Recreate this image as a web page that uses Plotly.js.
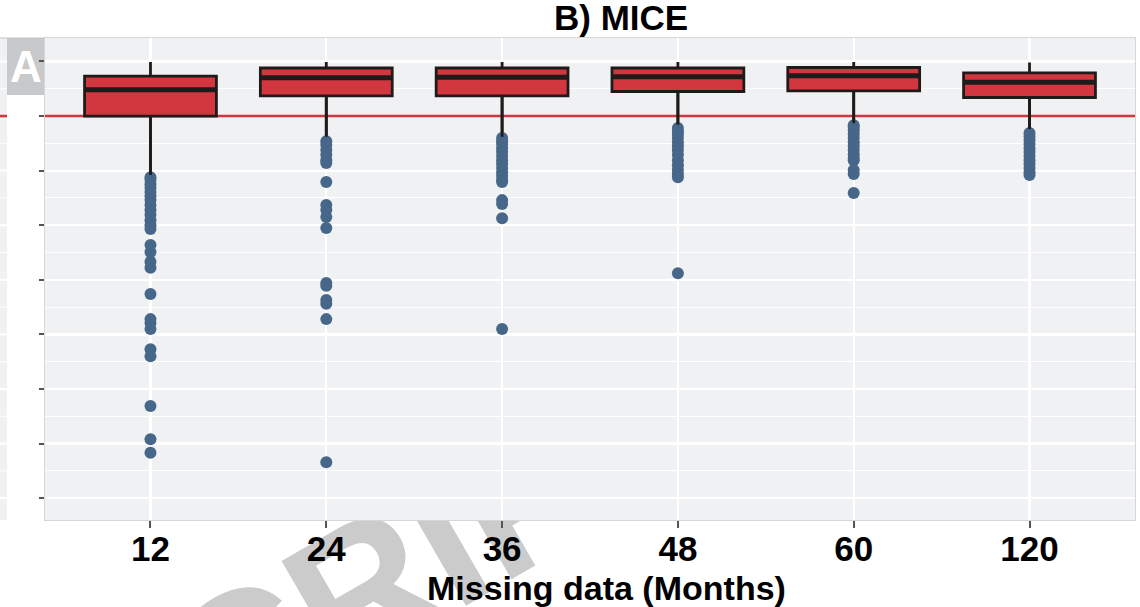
<!DOCTYPE html>
<html>
<head>
<meta charset="utf-8">
<script src="https://cdn.plot.ly/plotly-3.0.1.min.js"></script>
<style>
  html, body { margin: 0; padding: 0; background: #ffffff; }
  #wrap { position: relative; width: 1140px; height: 607px; overflow: hidden; }
  #wmclip { position: absolute; left: 0; top: 521px; width: 1140px; height: 86px; overflow: hidden; z-index: 0; }
  #wm { position: absolute; left: 20px; top: 140px; transform-origin: 0 0; transform: rotate(-30deg);
        font-family: "Liberation Sans", Arial, sans-serif; font-weight: bold; font-size: 190px; line-height: normal;
        color: #cbcbcb; white-space: nowrap; }
  #chart { position: absolute; left: 0; top: 0; width: 1140px; height: 607px; z-index: 1; }
</style>
</head>
<body>
<div id="wrap">
  <div id="wmclip"><div id="wm">SCRIPT</div></div>
  <div id="chart"></div>
</div>
<script>
// ---- data ----
const categories = ['12', '24', '36', '48', '60', '120'];
const q1 = [0.00, 0.37, 0.37, 0.45, 0.46, 0.34];
const median = [0.48, 0.70, 0.71, 0.72, 0.74, 0.62];
const q3 = [0.73, 0.88, 0.88, 0.88, 0.89, 0.79];
const upperWhisker = [0.99, 0.99, 0.99, 0.99, 0.99, 0.98];
const lowerWhisker = [-1.08, -0.38, -0.38, -0.16, -0.13, -0.24];

const out12 = [-1.12, -1.17, -1.25, -1.32, -1.39, -1.47, -1.54, -1.63, -1.72, -1.81, -1.91, -2.00, -2.07,
               -2.36, -2.49, -2.67, -2.78, -3.26, -3.72, -3.79, -3.90, -4.27, -4.40, -5.31, -5.92, -6.17];
const out24 = [-0.46, -0.53, -0.62, -0.71, -0.81, -0.86, -1.21, -1.63, -1.72, -1.85, -2.05,
               -3.06, -3.11, -3.37, -3.44, -3.72, -6.34];
const out36 = [-0.40, -0.46, -0.51, -0.59, -0.66, -0.73, -0.81, -0.88, -0.95, -1.03, -1.10, -1.17, -1.21,
               -1.54, -1.61, -1.87, -3.90];
const out48 = [-0.22, -0.28, -0.33, -0.40, -0.48, -0.55, -0.62, -0.71, -0.81, -0.90, -0.99, -1.06, -1.12, -2.88];
const out60 = [-0.17, -0.20, -0.26, -0.33, -0.40, -0.48, -0.55, -0.62, -0.70, -0.77, -0.81, -0.99, -1.06, -1.41];
const out120 = [-0.31, -0.37, -0.44, -0.51, -0.59, -0.66, -0.73, -0.81, -0.88, -0.95, -1.03, -1.08];
const outliers = [out12, out24, out36, out48, out60, out120];

const referenceValue = 0;
const yTicks = [-7, -6, -5, -4, -3, -2, -1, 0, 1];
const yMinorTicks = [-6.5, -5.5, -4.5, -3.5, -2.5, -1.5, -0.5, 0.5];

// ---- styles ----
const RED = '#d2363f';
const DARK = '#1f1b1a';
const BLUE = '#46678a';
const PANEL = '#f0f1f3';
const TICKC = '#555555';
const FONT = '"Liberation Sans Narrow", "Liberation Sans", Arial, sans-serif';
const BOXW = 0.75;
const YRANGE = [-7.40, 1.43];

const pos = categories.map((c, i) => i);

// outlier points
const ox = [], oy = [];
outliers.forEach((arr, i) => arr.forEach(v => { ox.push(i); oy.push(v); }));

// median overlay & lower whisker overlay (drawn above the points, as in the reference)
const mx = [], my = [], wx = [], wy = [];
pos.forEach((p, i) => {
  mx.push(p - BOXW / 2, p + BOXW / 2, null); my.push(median[i], median[i], null);
  wx.push(p, p, null); wy.push(q1[i], lowerWhisker[i], null);
});

const traces = [
  { type: 'box', x: pos, q1: q1, median: median, q3: q3,
    lowerfence: lowerWhisker, upperfence: upperWhisker,
    width: BOXW, whiskerwidth: 0, fillcolor: RED,
    line: { color: DARK, width: 2.8 }, hoverinfo: 'skip', showlegend: false },
  { type: 'scatter', mode: 'markers', x: ox, y: oy,
    marker: { color: BLUE, size: 12, line: { width: 0 } }, hoverinfo: 'skip', showlegend: false },
  { type: 'scatter', mode: 'lines', x: wx, y: wy,
    line: { color: DARK, width: 2.8 }, hoverinfo: 'skip', showlegend: false },
  { type: 'scatter', mode: 'lines', x: mx, y: my,
    line: { color: DARK, width: 5 }, hoverinfo: 'skip', showlegend: false },
  // empty trace that only carries the tick at the reference value
  { type: 'scatter', x: [], y: [], yaxis: 'y2', hoverinfo: 'skip', showlegend: false }
];

// geometry helpers (pixel layout of the crop)
const W = 1140, H = 607, L = 45, R = 5, T = 38, B = 87;
const PW = W - L - R, PH = H - T - B;
const px2x = px => (px - L) / PW;
const px2y = py => (H - B - py) / PH;

const shapes = [
  // reference line
  { type: 'line', xref: 'paper', yref: 'y', x0: 0, x1: 1, y0: referenceValue, y1: referenceValue,
    line: { color: RED, width: 2.6 }, layer: 'below' },
  // sliver of neighbouring panel on the far left
  { type: 'rect', xref: 'paper', yref: 'paper', x0: px2x(0), x1: px2x(7), y0: 0, y1: 1,
    fillcolor: PANEL, line: { width: 0 }, layer: 'below' },
  // grey strip with the neighbouring panel label
  { type: 'rect', xref: 'paper', yref: 'paper', x0: px2x(7), x1: 0, y0: px2y(95), y1: 1,
    fillcolor: '#c8c9cb', line: { width: 0 }, layer: 'below' },
  // top border line across the left part
  { type: 'line', xref: 'paper', yref: 'paper', x0: px2x(0), x1: 0, y0: 1, y1: 1,
    line: { color: '#c4c4c4', width: 1 } }
];
// gridlines in the left sliver
yTicks.forEach(v => {
  if (v !== referenceValue) {
    shapes.push({ type: 'line', xref: 'paper', yref: 'y', x0: px2x(0), x1: px2x(7), y0: v, y1: v,
      line: { color: '#ffffff', width: 2 }, layer: 'below' });
  }
});
yMinorTicks.forEach(v => {
  shapes.push({ type: 'line', xref: 'paper', yref: 'y', x0: px2x(0), x1: px2x(7), y0: v, y1: v,
    line: { color: '#ffffff', width: 1 }, layer: 'below' });
});
shapes.push({ type: 'line', xref: 'paper', yref: 'y', x0: px2x(0), x1: px2x(7), y0: referenceValue, y1: referenceValue,
  line: { color: RED, width: 2.6 }, layer: 'below' });

const layout = {
  width: W, height: H,
  margin: { l: L, r: R, t: T, b: B, pad: 0 },
  paper_bgcolor: 'rgba(0,0,0,0)',
  plot_bgcolor: PANEL,
  font: { family: FONT, color: '#000000' },
  showlegend: false,
  xaxis: {
    type: 'linear', range: [-0.6, 5.6],
    tickmode: 'array', tickvals: pos, ticktext: categories,
    tickfont: { family: FONT, size: 35, color: '#000000', weight: 'bold' },
    ticks: 'outside', ticklen: 7, tickwidth: 2, tickcolor: TICKC,
    showgrid: true, gridcolor: '#ffffff', gridwidth: 2.2,
    zeroline: false, showline: true, linecolor: '#d6d6d6', linewidth: 1, mirror: true,
    ticklabelstandoff: -9
  },
  yaxis: {
    range: YRANGE, tickmode: 'array', tickvals: yTicks.filter(v => v !== referenceValue),
    showticklabels: false, ticks: 'outside', ticklen: 5, tickwidth: 2, tickcolor: TICKC,
    showgrid: true, gridcolor: '#ffffff', gridwidth: 2.2,
    minor: { tickmode: 'array', tickvals: yMinorTicks, showgrid: true, gridcolor: '#ffffff', gridwidth: 1, ticks: '' },
    zeroline: false, showline: true, linecolor: '#d6d6d6', linewidth: 1, mirror: true
  },
  yaxis2: {
    overlaying: 'y', side: 'left', range: YRANGE, tickmode: 'array', tickvals: [referenceValue],
    showticklabels: false, ticks: 'outside', ticklen: 5, tickwidth: 2, tickcolor: TICKC,
    showgrid: false, zeroline: false, showline: false
  },
  shapes: shapes,
  annotations: [
    { text: 'B) MICE', xref: 'paper', yref: 'paper', x: px2x(621), y: px2y(18),
      xanchor: 'center', yanchor: 'middle', showarrow: false,
      font: { family: FONT, size: 35, color: '#000000', weight: 'bold' } },
    { text: 'Missing data (Months)', xref: 'paper', yref: 'paper', x: px2x(606), y: px2y(588),
      xanchor: 'center', yanchor: 'middle', showarrow: false,
      font: { family: FONT, size: 34, color: '#000000', weight: 'bold' } },
    { text: 'A', xref: 'paper', yref: 'paper', x: px2x(8), y: px2y(66),
      xanchor: 'left', yanchor: 'middle', showarrow: false,
      font: { family: FONT, size: 44, color: '#ffffff', weight: 'bold' } }
  ]
};

Plotly.newPlot('chart', traces, layout, { displayModeBar: false, staticPlot: true });
</script>
</body>
</html>
